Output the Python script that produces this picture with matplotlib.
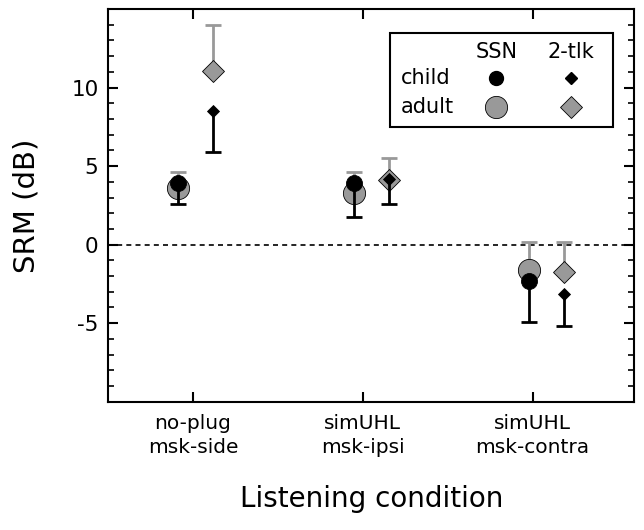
import numpy as np
import matplotlib
matplotlib.use("Agg")
import matplotlib.pyplot as plt
from matplotlib.ticker import MultipleLocator

plt.rcParams["axes.unicode_minus"] = False

conditions = ["no-plug\nmsk-side", "simUHL\nmsk-ipsi", "simUHL\nmsk-contra"]

# SRM values (dB)
child_ssn = [3.95, 3.9, -2.3]
adult_ssn = [3.6, 3.3, -1.6]
child_tlk = [8.5, 4.2, -3.15]
adult_tlk = [11.05, 4.1, -1.75]

# one-sided error bars: child downward, adult upward
child_ssn_err = [1.35, 2.15, 2.6]
adult_ssn_err = [1.0, 1.3, 1.75]
child_tlk_err = [2.6, 1.6, 2.0]
adult_tlk_err = [2.95, 1.4, 1.9]

GRAY = "#999999"

fig = plt.figure(figsize=(6.44, 5.30), dpi=100)
ax = fig.add_axes([0.168, 0.242, 0.817, 0.741])

cond = np.arange(1, len(conditions) + 1)
x_ssn = cond * 1.034 - 0.12
x_tlk = cond * 1.034 + 0.086

ax.axhline(0, color="black", lw=1.2, ls=(0, (3, 2.5)), zorder=1)


def draw(x, vals, errs, up, color, marker, ms):
    errs = np.asarray(errs)
    zero = np.zeros_like(errs)
    yerr = [zero, errs] if up else [errs, zero]
    eb = ax.errorbar(x, vals, yerr=yerr, fmt="none", ecolor=color, elinewidth=2,
                     capsize=6, capthick=2, zorder=2 if up else 4)
    # hide the cap sitting at the marker itself
    eb[1][0 if up else 1].set_visible(False)
    ax.plot(x, vals, ls="none", marker=marker, ms=ms, mfc=color,
            mec="black" if up else color, mew=0.6, zorder=3 if up else 5)


draw(x_ssn, adult_ssn, adult_ssn_err, True, GRAY, "o", 16)
draw(x_ssn, child_ssn, child_ssn_err, False, "black", "o", 11.5)
draw(x_tlk, adult_tlk, adult_tlk_err, True, GRAY, "D", 10.7)
draw(x_tlk, child_tlk, child_tlk_err, False, "black", "D", 6.6)

ax.set_xlim(0.5, 3.6)
ax.set_ylim(-10, 15)
ax.set_xticks(cond)
ax.set_xticklabels(conditions, fontsize=14.5, linespacing=1.3)
ax.set_yticks([-5, 0, 5, 10])
ax.yaxis.set_minor_locator(MultipleLocator(1))
ax.tick_params(axis="both", which="major", direction="in", length=7, width=1.5,
               top=True, right=True)
ax.tick_params(axis="y", which="minor", direction="in", length=4, width=1.2,
               right=True)
ax.tick_params(axis="y", labelsize=15.5, pad=7)
ax.tick_params(axis="x", pad=9)
for s in ax.spines.values():
    s.set_linewidth(1.5)

ax.set_ylabel("SRM (dB)", fontsize=21, labelpad=22)
ax.set_xlabel("Listening condition", fontsize=20, labelpad=20)

# legend box
lx0, ly0, lw, lh = 0.536, 0.70, 0.424, 0.24
ax.add_patch(plt.Rectangle((lx0, ly0), lw, lh, transform=ax.transAxes,
                           fill=True, fc="white", ec="black", lw=1.5, zorder=6))
col1, col2 = 0.738, 0.880
row0, row1, row2 = 0.891, 0.824, 0.751
kw = dict(transform=ax.transAxes, va="center", fontsize=15, zorder=7)
ax.text(col1, row0, "SSN", ha="center", **kw)
ax.text(col2, row0, "2-tlk", ha="center", **kw)
ax.text(0.556, row1, "child", ha="left", **kw)
ax.text(0.556, row2, "adult", ha="left", **kw)
ax.plot([col1], [row1], "o", ms=10, color="black", transform=ax.transAxes, zorder=7)
ax.plot([col1], [row2], "o", ms=16, mfc=GRAY, mec="black", mew=0.6,
        transform=ax.transAxes, zorder=7)
ax.plot([col2], [row1], "D", ms=6.6, color="black", transform=ax.transAxes, zorder=7)
ax.plot([col2], [row2], "D", ms=10.7, mfc=GRAY, mec="black", mew=0.6,
        transform=ax.transAxes, zorder=7)

fig.savefig("out.png", dpi=100)
